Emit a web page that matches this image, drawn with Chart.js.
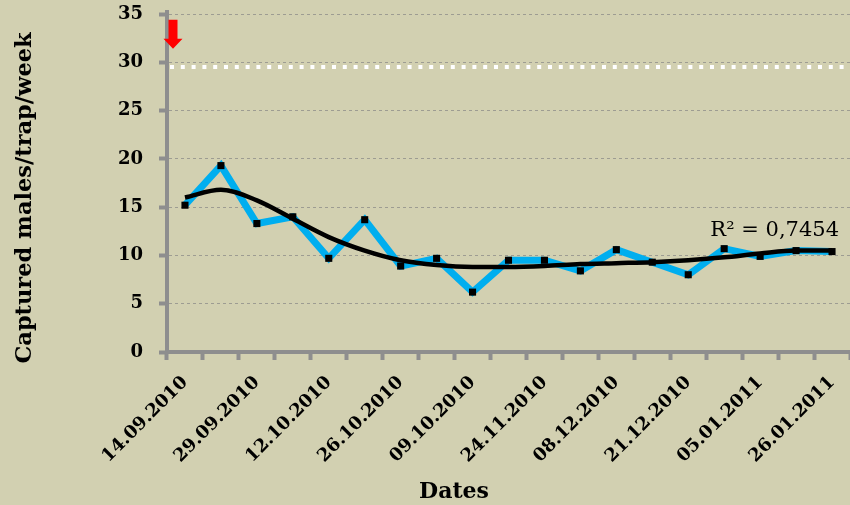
<!DOCTYPE html>
<html>
<head>
<meta charset="utf-8">
<script src="https://cdn.jsdelivr.net/npm/chart.js@4/dist/chart.umd.min.js"></script>
<style>
  html, body { margin: 0; padding: 0; background: #d2d0b1; }
  #wrap { width: 850px; height: 505px; }
</style>
</head>
<body>
<div id="wrap"><canvas id="chart" width="850" height="505"></canvas></div>
<script>
// Weekly trap checks (19 samplings); every second one carries a date label
const samplings = [1, 2, 3, 4, 5, 6, 7, 8, 9, 10, 11, 12, 13, 14, 15, 16, 17, 18, 19];
const dateLabels = ['14.09.2010', '29.09.2010', '12.10.2010', '26.10.2010', '09.10.2010',
                    '24.11.2010', '08.12.2010', '21.12.2010', '05.01.2011', '26.01.2011'];

// Captured males per trap per week
const captures = [15.2, 19.3, 13.3, 14.0, 9.7, 13.7, 8.9, 9.7, 6.2, 9.5,
                  9.5, 8.4, 10.6, 9.3, 8.0, 10.7, 9.9, 10.5, 10.4];

// Polynomial trend line values at each sampling
const trend = [16.0, 16.8, 15.7, 13.8, 11.9, 10.5, 9.5, 9.0, 8.8, 8.8,
               8.9, 9.1, 9.2, 9.3, 9.5, 9.8, 10.2, 10.5, 10.5];

const rSquared = 'R² = 0,7454';
const yTicks = [0, 5, 10, 15, 20, 25, 30, 35];
const threshold = 29.5;          // white dotted reference level
const arrowFrom = 34.4, arrowTo = 31.4;

const SERIF = '"DejaVu Serif", "Liberation Serif", serif';
const AXIS_GREY = '#8e8e8e';

const backgroundPlugin = {
  id: 'paper',
  beforeDraw(chart) {
    const { ctx, width, height } = chart;
    ctx.save();
    ctx.fillStyle = '#d2d0b1';
    ctx.fillRect(0, 0, width, height);
    ctx.restore();
  }
};

const overlayPlugin = {
  id: 'overlay',
  beforeDatasetsDraw(chart) {
    const { ctx, chartArea, scales } = chart;
    const y = scales.y.getPixelForValue(threshold);
    ctx.save();
    ctx.strokeStyle = '#ffffff';
    ctx.lineWidth = 4;
    ctx.setLineDash([4, 6.8]);
    ctx.beginPath();
    ctx.moveTo(chartArea.left + 3, y);
    ctx.lineTo(chartArea.right, y);
    ctx.stroke();
    // small extension of the value axis above its top tick
    ctx.setLineDash([]);
    ctx.strokeStyle = AXIS_GREY;
    ctx.beginPath();
    ctx.moveTo(chartArea.left, chartArea.top - 4);
    ctx.lineTo(chartArea.left, chartArea.top + 2);
    ctx.stroke();
    ctx.restore();
  },
  afterDatasetsDraw(chart) {
    const { ctx, chartArea, scales } = chart;
    // red arrow at the start of the season
    const ax = chartArea.left + 6;
    const top = scales.y.getPixelForValue(arrowFrom);
    const tip = scales.y.getPixelForValue(arrowTo);
    const headStart = tip - 10;
    ctx.save();
    ctx.fillStyle = '#ff0000';
    ctx.beginPath();
    ctx.moveTo(ax - 4.5, top);
    ctx.lineTo(ax + 4.5, top);
    ctx.lineTo(ax + 4.5, headStart);
    ctx.lineTo(ax + 9.5, headStart);
    ctx.lineTo(ax, tip);
    ctx.lineTo(ax - 9.5, headStart);
    ctx.lineTo(ax - 4.5, headStart);
    ctx.closePath();
    ctx.fill();

    // coefficient of determination of the trend line
    const last = trend.length - 1;
    const lx = scales.x.getPixelForValue(last) + 7;
    const ly = scales.y.getPixelForValue(trend[last]) - 15;
    ctx.fillStyle = '#000000';
    ctx.font = '21px ' + SERIF;
    ctx.textAlign = 'right';
    ctx.textBaseline = 'alphabetic';
    ctx.fillText(rSquared, lx, ly);

    // axis titles
    ctx.font = 'bold 22px ' + SERIF;
    ctx.textAlign = 'center';
    ctx.textBaseline = 'middle';
    ctx.fillText('Dates', 454, 492);
    ctx.font = 'bold 22.5px ' + SERIF;
    ctx.translate(25, 198);
    ctx.rotate(-Math.PI / 2);
    ctx.fillText('Captured males/trap/week', 0, 0);
    ctx.restore();
  }
};

new Chart(document.getElementById('chart'), {
  type: 'line',
  data: {
    labels: samplings,
    datasets: [
      {
        label: 'Captured males',
        data: captures,
        borderColor: '#00aeef',
        borderWidth: 7,
        tension: 0,
        pointStyle: 'rect',
        pointRadius: 5,
        pointBorderWidth: 0,
        pointBackgroundColor: '#000000',
        order: 2
      },
      {
        label: 'Trend',
        data: trend,
        borderColor: '#000000',
        borderWidth: 4.5,
        cubicInterpolationMode: 'monotone',
        pointRadius: 0,
        order: 1
      }
    ]
  },
  options: {
    responsive: false,
    animation: false,
    events: [],
    layout: { autoPadding: false, padding: { top: 14, right: -1, bottom: 0, left: 0 } },
    plugins: { legend: { display: false }, tooltip: { enabled: false }, title: { display: false } },
    scales: {
      x: {
        offset: true,
        grid: {
          display: true,
          offset: true,
          drawOnChartArea: false,
          drawTicks: true,
          tickLength: 8,
          tickWidth: 4,
          tickColor: AXIS_GREY
        },
        border: { display: true, color: AXIS_GREY, width: 4 },
        ticks: {
          autoSkip: false,
          maxRotation: 45,
          minRotation: 45,
          padding: 12,
          color: '#000000',
          font: { family: SERIF, size: 18, weight: 'bold' },
          callback: (v, i) => (i % 2 === 0 ? dateLabels[i / 2] : '')
        },
        afterFit(scale) {
          scale.height = 153;
          scale.paddingLeft = 0;
          scale.paddingRight = 0;
        }
      },
      y: {
        min: 0,
        max: 35,
        afterBuildTicks(scale) { scale.ticks = yTicks.map(v => ({ value: v })); },
        grid: {
          display: true,
          color: '#9d9c92',
          lineWidth: 1,
          drawTicks: true,
          tickLength: 8,
          tickWidth: 4,
          tickColor: AXIS_GREY,
          tickBorderDash: []
        },
        border: { display: true, color: AXIS_GREY, width: 4, dash: [3, 3] },
        ticks: {
          padding: 16,
          color: '#000000',
          font: { family: SERIF, size: 18, weight: 'bold' }
        },
        afterFit(scale) {
          scale.width = 167;
          scale.paddingTop = 0;
          scale.paddingBottom = 0;
        }
      }
    }
  },
  plugins: [backgroundPlugin, overlayPlugin]
});
</script>
</body>
</html>
